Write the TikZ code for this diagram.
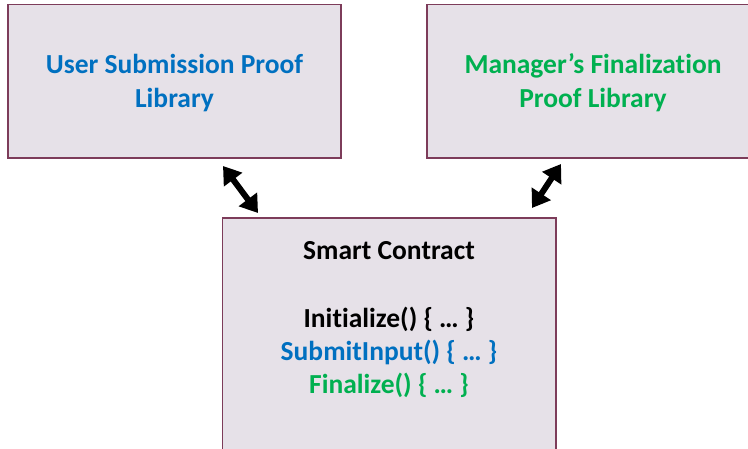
\documentclass[tikz,border=0pt]{standalone}
\usepackage{fontspec}
\setmainfont{Carlito}[Ligatures={NoCommon}]
\usetikzlibrary{arrows.meta}
\definecolor{boxfill}{RGB}{230,225,232}
\definecolor{boxline}{RGB}{125,60,90}
\definecolor{ublue}{RGB}{0,112,192}
\definecolor{mgreen}{RGB}{0,176,80}
\tikzset{
  libbox/.style={draw=boxline, line width=1.2pt, fill=boxfill},
  lbl/.style={font=\bfseries\fontsize{27.5}{34}\selectfont, align=center},
  dblarrow/.style={line width=6pt, {Triangle[length=17pt,width=22pt]}-{Triangle[length=17pt,width=22pt]}}
}
\begin{document}
\begin{tikzpicture}[x=1pt,y=-1pt]
\useasboundingbox (0,0) rectangle (748,449);
\draw[libbox] (8,4.5) rectangle (341,158);
\draw[libbox] (427,4.5) rectangle (760,158);
\draw[libbox] (222.5,218) rectangle (556,460);
\node[lbl, text=ublue] (user) at (174.5,83) {User Submission Proof\\Library};
\node[lbl, text=mgreen] (mgr) at (593,83) {Manager’s Finalization\\Proof Library};
\node[lbl] (sc) at (389,251) {Smart Contract};
\node[lbl] (init) at (389,319) {Initialize() \{ … \}};
\node[lbl, text=ublue] (sub) at (389,352) {SubmitInput() \{ … \}};
\node[lbl, text=mgreen] (fin) at (389,385) {Finalize() \{ … \}};
\coordinate (a1) at (223,166);
\coordinate (a2) at (258,213);
\coordinate (b1) at (561,164);
\coordinate (b2) at (532,208);
\draw[dblarrow] (a1) -- (a2);
\draw[dblarrow] (b1) -- (b2);
\end{tikzpicture}
\end{document}
